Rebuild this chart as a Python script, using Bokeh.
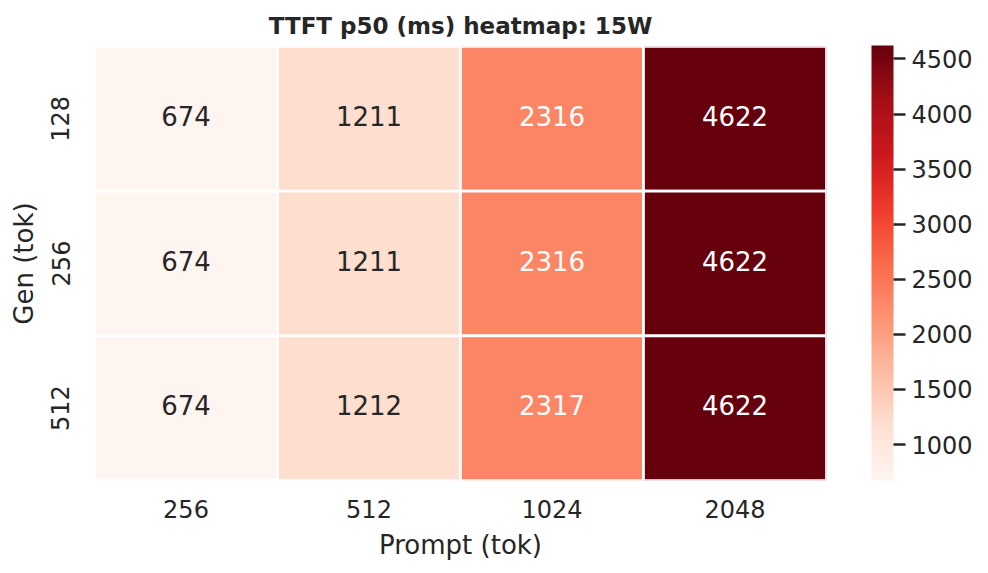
from bokeh.plotting import figure
from bokeh.models import (ColumnDataSource, LinearColorMapper, ColorBar, FixedTicker,
                          FactorRange)
from bokeh.palettes import Reds256
from bokeh.transform import transform
from bokeh.core.properties import value
from bokeh.embed import file_html
from bokeh.resources import INLINE

# ---- data ----
prompts = ["256", "512", "1024", "2048"]          # x categories (Prompt tok)
gens = ["128", "256", "512"]                       # y categories (Gen tok)
ttft_gen128 = [674, 1211, 2316, 4622]
ttft_gen256 = [674, 1211, 2316, 4622]
ttft_gen512 = [674, 1212, 2317, 4622]
cbar_ticks = [1000, 1500, 2000, 2500, 3000, 3500, 4000, 4500]

rows = {"128": ttft_gen128, "256": ttft_gen256, "512": ttft_gen512}
vmin = min(min(r) for r in rows.values())
vmax = max(max(r) for r in rows.values())

xs, ys, vals, labels, tcolors = [], [], [], [], []
for g in gens:
    for p, v in zip(prompts, rows[g]):
        xs.append(p)
        ys.append(g)
        vals.append(v)
        labels.append(str(v))
        frac = (v - vmin) / (vmax - vmin)
        tcolors.append("white" if frac > 0.3 else "#262626")
src = ColumnDataSource(dict(x=xs, y=ys, v=vals, label=labels, tc=tcolors))

FONT = "DejaVu Sans"
DARK = "#262626"

mapper = LinearColorMapper(palette=list(reversed(Reds256)), low=vmin, high=vmax)

p = figure(x_range=FactorRange(factors=prompts),
           y_range=FactorRange(factors=list(reversed(gens))),
           frame_width=732, frame_height=434,
           min_border_left=94, min_border_right=154,
           min_border_top=46, min_border_bottom=85,
           output_backend="svg", toolbar_location=None,
           title="TTFT p50 (ms) heatmap: 15W")

p.rect(x="x", y="y", width=1, height=1, source=src,
       fill_color=transform("v", mapper), line_color="white", line_width=2.7)
p.text(x="x", y="y", text="label", source=src, text_color="tc",
       text_align="center", text_baseline="middle", y_offset=-3,
       text_font=value(FONT), text_font_size="26px")

p.title.text_font = FONT
p.title.text_font_size = "23px"
p.title.text_font_style = "bold"
p.title.text_color = DARK
p.title.align = "center"
p.title.standoff = 16

p.outline_line_color = None
p.grid.grid_line_color = None
for ax in (p.xaxis[0], p.yaxis[0]):
    ax.axis_line_color = None
    ax.major_tick_out = 0
    ax.major_tick_in = 0
    ax.minor_tick_out = 0
    ax.major_label_text_font = FONT
    ax.major_label_text_font_size = "24px"
    ax.major_label_text_color = DARK
    ax.axis_label_text_font = FONT
    ax.axis_label_text_font_size = "26px"
    ax.axis_label_text_font_style = "normal"
    ax.axis_label_text_color = DARK

p.xaxis.axis_label = "Prompt (tok)"
p.yaxis.axis_label = "Gen (tok)"
p.xaxis.major_label_standoff = 19
p.yaxis.major_label_standoff = 25
p.xaxis.axis_label_standoff = 9
p.yaxis.axis_label_standoff = 10
p.yaxis.major_label_orientation = "vertical"

cb = ColorBar(color_mapper=mapper, width=22, height=435,
              ticker=FixedTicker(ticks=cbar_ticks),
              location=(45, 0), padding=0, margin=0,
              major_tick_in=0, major_tick_out=12,
              major_tick_line_color=DARK, major_tick_line_width=2.5,
              minor_tick_line_color=None,
              bar_line_color=None, border_line_color=None,
              label_standoff=6,
              major_label_text_font=FONT, major_label_text_font_size="24px",
              major_label_text_color=DARK)
p.add_layout(cb, "right")

open("out.html", "w").write(file_html(p, INLINE))
